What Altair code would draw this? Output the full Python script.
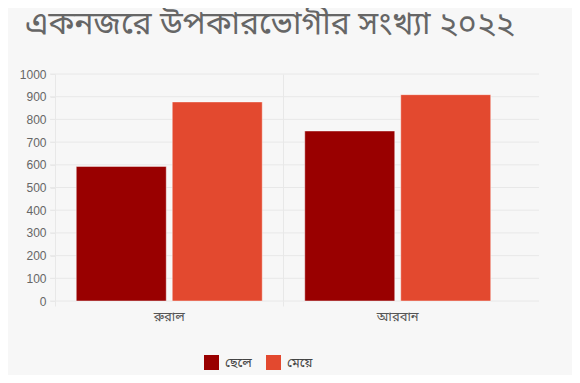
import altair as alt
import pandas as pd

categories = ["রুরাল", "আরবান"]
series = ["ছেলে", "মেয়ে"]
boys = [593, 749]
girls = [877, 909]
colors = ["#990000", "#e3492f"]
y_ticks = list(range(0, 1001, 100))
title_text = "একনজরে উপকারভোগীর সংখ্যা ২০২২"

rows = []
for i, c in enumerate(categories):
    rows.append({"cat": c, "series": series[0], "value": boys[i]})
    rows.append({"cat": c, "series": series[1], "value": girls[i]})
df = pd.DataFrame(rows)
grid_df = pd.DataFrame({"v": y_ticks})

BN = "Noto Sans Bengali, Noto Sans, sans-serif"
GRID = "#e8e8e8"

yscale = alt.Scale(domain=[0, 1000], nice=False)

grid = alt.Chart(grid_df).mark_rule(color=GRID, strokeWidth=1).encode(
    y=alt.Y("v:Q", scale=yscale, title=None, axis=None),
    x=alt.value(-5),
    x2=alt.value(484),
)

bars = alt.Chart(df).mark_bar(stroke="white", strokeOpacity=0.45, strokeWidth=1).encode(
    x=alt.X("cat:N", sort=categories, title=None,
            scale=alt.Scale(range=[0, 457], paddingInner=0, paddingOuter=0),
            axis=alt.Axis(bandPosition=0, grid=True, gridColor=GRID, domain=False,
                          tickColor=GRID, tickSize=5, labelAngle=0,
                          labelFont=BN, labelFontSize=13, labelColor="#555555",
                          labelPadding=4)),
    xOffset=alt.XOffset("series:N", sort=series,
                        scale=alt.Scale(paddingInner=0.0625, paddingOuter=0.2214)),
    y=alt.Y("value:Q", title=None, scale=yscale,
            axis=alt.Axis(values=y_ticks, format="d", grid=False, labelOverlap=False,
                          domain=False, tickColor=GRID, tickSize=5,
                          labelFont="Liberation Sans, Arial, sans-serif", labelFontSize=12,
                          labelColor="#666666", labelPadding=4)),
    color=alt.Color("series:N", sort=series,
                    scale=alt.Scale(domain=series, range=colors),
                    legend=alt.Legend(title=None, orient="none", legendX=149, legendY=281,
                                      direction="horizontal", symbolType="square",
                                      symbolSize=225, symbolStrokeWidth=0,
                                      labelFont=BN, labelFontSize=13, labelColor="#444444",
                                      columnPadding=14, labelOffset=6, padding=0)),
)

chart = alt.layer(grid, bars).resolve_axis(y="independent").properties(
    width=484,
    height=227,
    title=alt.TitleParams(title_text, anchor="start", frame="group", dx=-30, offset=27,
                          font=BN, fontSize=32, fontWeight="normal", color="#666666"),
    autosize=alt.AutoSizeParams(type="none"),
    padding={"left": 47, "top": 66, "right": 33, "bottom": 74},
    background="#f7f7f7",
).configure_view(stroke=None)

chart.save("out.html", embed_options={"renderer": "svg", "actions": False})
